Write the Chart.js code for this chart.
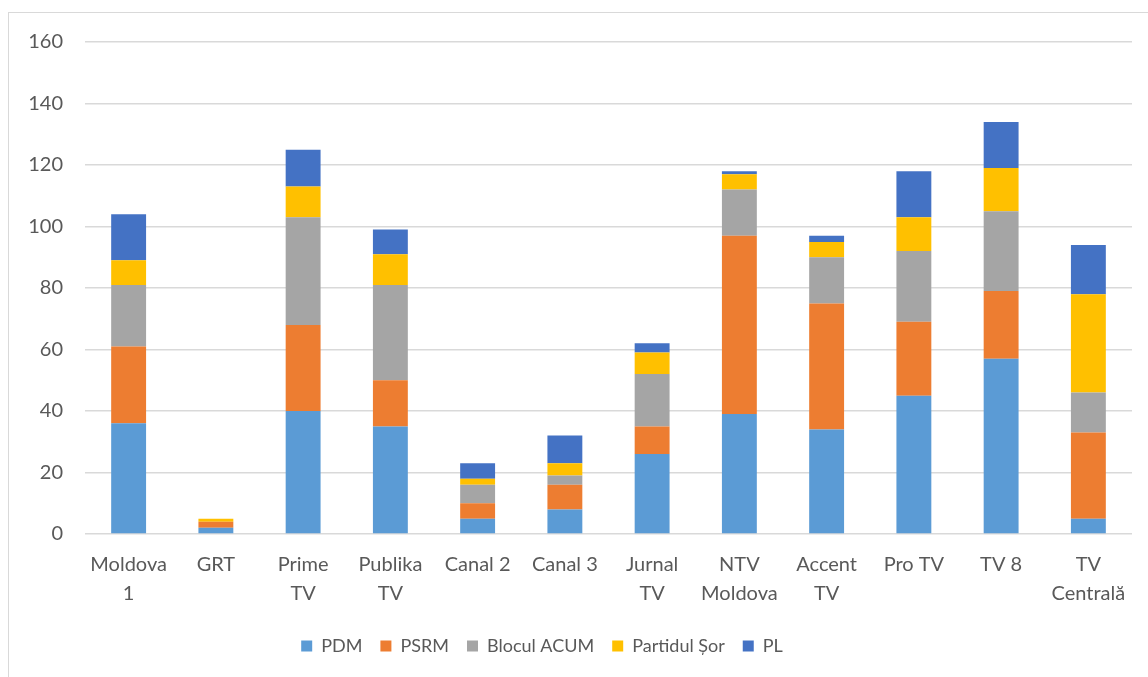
<!DOCTYPE html>
<html>
<head>
<meta charset="utf-8">
<script src="https://cdn.jsdelivr.net/npm/chart.js@4/dist/chart.umd.min.js"></script>
<style>
  html, body { margin: 0; padding: 0; background: #ffffff; }
  #wrap { position: absolute; left: 0; top: 0; width: 1148px; height: 677px; }
  #frame { position: absolute; left: 8px; top: 12px; width: 1160px; height: 700px; border: 1px solid #d9d9d9; box-sizing: border-box; }
  canvas { position: absolute; left: 0; top: 0; }
</style>
</head>
<body>
<div id="wrap">
  <div id="frame"></div>
  <canvas id="c" width="1148" height="677"></canvas>
</div>
<script>
const categories = [["Moldova","1"],"GRT",["Prime","TV"],["Publika","TV"],"Canal 2","Canal 3",["Jurnal","TV"],["NTV","Moldova"],["Accent","TV"],"Pro TV","TV 8",["TV","Centrală"]];
const seriesNames = ["PDM","PSRM","Blocul ACUM","Partidul Șor","PL"];
const pdm   = [36, 2, 40, 35, 5, 8, 26, 39, 34, 45, 57, 5];
const psrm  = [25, 2, 28, 15, 5, 8, 9, 58, 41, 24, 22, 28];
const acum  = [20, 0, 35, 31, 6, 3, 17, 15, 15, 23, 26, 13];
const sor   = [8, 1, 10, 10, 2, 4, 7, 5, 5, 11, 14, 32];
const pl    = [15, 0, 12, 8, 5, 9, 3, 1, 2, 15, 15, 16];
const colors = ["#5b9bd5","#ed7d31","#a5a5a5","#ffc000","#4472c4"];
const yTicks = [0,20,40,60,80,100,120,140,160];

const FONT = "Lato, 'Open Sans', sans-serif";
const values = [pdm, psrm, acum, sor, pl];

const shiftLegend = {
  id: 'shiftLegend',
  afterLayout(chart) {
    if (chart.legend) { chart.legend.left -= 34; chart.legend.right -= 34; }
  }
};

new Chart(document.getElementById('c'), {
  type: 'bar',
  data: {
    labels: categories,
    datasets: seriesNames.map((n, i) => ({
      label: n,
      data: values[i],
      backgroundColor: colors[i],
      borderWidth: 0,
      barPercentage: 0.4,
      categoryPercentage: 1.0
    }))
  },
  plugins: [shiftLegend],
  options: {
    responsive: false,
    animation: false,
    layout: { padding: { left: 20, right: 16, top: 42, bottom: 12 } },
    plugins: {
      legend: {
        position: 'bottom',
        labels: {
          font: { family: FONT, size: 18 },
          color: '#595959',
          boxWidth: 11,
          boxHeight: 11,
          padding: 18
        }
      },
      tooltip: { enabled: false }
    },
    scales: {
      x: {
        stacked: true,
        grid: { display: false },
        border: { display: false },
        ticks: {
          font: { family: FONT, size: 20, lineHeight: 1.45 },
          color: '#595959',
          maxRotation: 0,
          autoSkip: false,
          padding: 8
        },
        afterFit: (s) => { s.height = 85; }
      },
      y: {
        stacked: true,
        min: 0, max: 160,
        afterBuildTicks: (s) => { s.ticks = yTicks.map(v => ({ value: v })); },
        grid: { color: '#d9d9d9', lineWidth: 1.5, drawTicks: false },
        border: { display: false },
        ticks: {
          font: { family: FONT, size: 20 },
          color: '#595959',
          padding: 22
        },
        afterFit: (s) => { s.width = 65; }
      }
    }
  }
});
</script>
</body>
</html>
